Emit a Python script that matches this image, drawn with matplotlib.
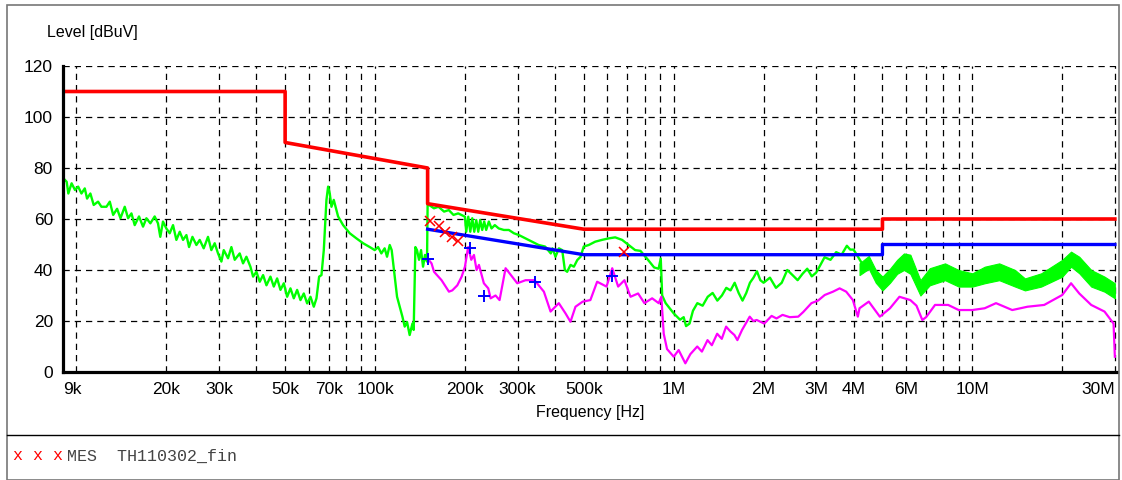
import matplotlib
matplotlib.use('Agg')
import matplotlib.pyplot as plt
from matplotlib.patches import Rectangle
from matplotlib.lines import Line2D
from matplotlib.ticker import NullFormatter

plt.rcParams['font.family'] = ['Liberation Sans', 'DejaVu Sans']

# limit lines (Hz, dBuV)
qp_limit_f = [9e3, 50e3, 50e3, 150e3, 150e3, 500e3, 5e6, 5e6, 30e6]
qp_limit_db = [110, 110, 90, 80, 66, 56, 56, 60, 60]
av_limit_f = [150e3, 500e3, 5e6, 5e6, 30e6]
av_limit_db = [56, 46, 46, 50, 50]

# peak scan (green), frequencies in kHz
green_khz = [9.04, 9.28, 9.40, 9.64, 9.89, 10.14, 10.40, 10.67, 10.86, 11.14,
             11.43, 11.82, 12.13, 12.61, 12.94, 13.28, 13.69, 14.05, 14.52, 14.90,
             15.29, 15.68, 16.21, 16.72, 17.16, 17.69, 18.29, 18.76, 19.10, 19.50,
             20.01, 20.53, 21.07, 21.62, 22.19, 22.76, 23.36, 23.84, 24.47, 25.23,
             25.88, 26.69, 27.59, 28.31, 29.05, 29.81, 30.59, 31.15, 32.20, 33.04,
             33.90, 35.23, 36.15, 37.10, 38.26, 39.06, 40.07, 41.12, 42.19, 43.30,
             44.65, 45.82, 47.01, 48.24, 49.49, 50.78, 52.10, 53.46, 54.85, 56.28,
             57.74, 59.25, 60.79, 62.37, 63.67, 64.98, 66.17, 67.37, 68.76, 69.65,
             70.55, 71.46, 72.75, 75.22, 78.18, 82.30, 86.64, 91.20, 96.01, 99.78,
             102.4, 105.0, 107.7, 109.7, 112.0, 113.7, 116.4, 118.5, 121.0, 123.5,
             125.7, 128.0, 130.6, 133.4, 134.7, 136.5, 138.2, 140.4, 142.6, 144.8,
             147.0, 149.3,
             150.0, 151.7, 157.5, 163.1, 170.3, 176.6, 183.1, 189.9, 200.0, 202.0,
             205.2, 208.4, 211.6, 214.9, 218.2, 221.6, 225.0, 228.5, 232.0, 235.6,
             240.5, 245.5, 251.8, 259.5, 270.0, 280.6, 291.8, 303.2, 318.9, 335.4,
             353.0, 371.0, 387.7, 392.8, 402.0, 412.7, 423.4, 432.1, 439.9, 451.5,
             463.3, 475.5, 487.7, 499.8, 519.4, 546.0, 575.0, 606.0, 637.0, 672.0,
             707.0, 743.0, 774.0, 820.0, 860.0, 890.0, 905.0, 915.0, 940.0, 1000.0,
             1050, 1080, 1100, 1130, 1160, 1200, 1250, 1300, 1350, 1400,
             1450, 1500, 1550, 1600, 1650, 1700, 1750, 1800, 1850, 1900,
             1950, 2000, 2100, 2200, 2300, 2400, 2500, 2600, 2700, 2800,
             2900, 3000, 3100, 3200, 3350, 3500, 3650, 3800, 3900, 4000,
             4150, 4300]
green_db = [76.0, 74.6, 70.0, 74.0, 71.4, 72.7, 70.0, 72.0, 68.0, 70.0,
            65.5, 66.8, 64.8, 64.8, 66.8, 61.6, 64.0, 60.3, 64.8, 60.3,
            62.2, 57.6, 61.0, 57.0, 60.3, 58.3, 61.0, 58.3, 53.0, 59.0,
            56.3, 54.4, 57.6, 51.8, 55.0, 51.8, 53.7, 49.0, 53.0, 49.8,
            51.8, 48.5, 53.0, 47.8, 50.5, 46.5, 43.3, 47.8, 44.6, 49.0,
            44.0, 46.5, 42.6, 45.2, 41.3, 37.4, 39.3, 35.4, 38.0, 34.0,
            37.4, 33.5, 36.7, 32.2, 34.8, 29.5, 32.8, 28.9, 32.2, 28.2,
            30.8, 26.9, 29.5, 25.6, 28.9, 37.4, 38.0, 47.8, 67.5, 72.7,
            70.0, 64.8, 67.5, 61.0, 57.6, 54.4, 52.4, 50.5, 49.0, 47.8,
            49.0, 46.5, 48.5, 45.2, 49.8, 47.8, 37.4, 29.5, 25.6, 21.7,
            17.8, 19.6, 14.5, 19.0, 16.5, 49.0, 47.8, 44.0, 47.8, 41.3,
            45.9, 43.3,
            66.1, 65.5, 64.2, 64.8, 62.9, 63.5, 61.6, 62.2, 60.9, 55.0,
            60.9, 55.0, 60.3, 55.0, 59.6, 55.0, 59.6, 55.7, 59.0, 55.7,
            59.0, 56.3, 57.6, 56.3, 55.7, 55.7, 54.4, 53.7, 52.4, 51.1,
            49.8, 49.2, 46.5, 48.5, 45.2, 48.5, 47.8, 40.0, 39.3, 42.0,
            41.3, 43.9, 45.2, 49.2, 49.8, 51.1, 51.8, 52.4, 52.8, 51.8,
            49.8, 47.8, 47.5, 44.0, 41.0, 40.5, 44.5, 30.0, 27.0, 23.0,
            20.5, 21.5, 18.0, 19.0, 24.0, 27.0, 26.0, 29.5, 31.0, 28.0,
            30.0, 33.0, 32.0, 35.0, 31.0, 28.0, 31.0, 35.0, 37.0, 39.5,
            36.0, 35.0, 37.0, 33.0, 35.0, 40.0, 38.0, 36.0, 38.5, 40.5,
            37.5, 39.0, 42.0, 45.0, 44.0, 47.0, 46.0, 49.5, 48.0, 48.0,
            45.0, 42.0]

# noise band of the peak scan above 4.2 MHz (kHz, upper / lower edge)
gband_khz = [4190, 4500, 4750, 5000, 5300, 5600, 5900, 6200, 6700, 7200,
             8100, 9000, 10000, 11000, 12300, 13900, 15000, 17000, 20000, 21400,
             22800, 25000, 27700, 30000]
gband_hi = [42.6, 45.5, 40.0, 37.4, 40.5, 44.0, 46.5, 46.0, 36.0, 40.7,
            42.6, 40.0, 38.7, 41.3, 42.6, 40.0, 36.7, 38.7, 44.0, 47.2,
            45.2, 40.0, 37.4, 34.8]
gband_lo = [38.0, 40.5, 35.0, 32.0, 35.0, 38.5, 40.0, 38.5, 30.0, 34.0,
            36.0, 33.5, 33.5, 34.8, 36.0, 33.5, 32.0, 33.5, 37.4, 41.3,
            38.7, 33.5, 31.5, 28.9]

# average scan (magenta), kHz
avg_khz = [150.0, 154.6, 157.6, 167.0, 176.8, 181.4, 188.6, 195.0, 200.0, 205.0,
           210.0, 214.4, 218.8, 222.8, 231.4, 239.4, 243.8, 253.2, 261.2, 273.6,
           299.4, 319.2, 342.0, 367.6, 387.0, 412.4, 434.2, 451.2, 469.0, 495.8,
           526.0, 554.2, 595.8, 622.6, 651.6, 684.0, 716.8, 760.0, 798.0, 846.8,
           890.8, 909.0, 926.0, 950.0, 1000, 1039, 1094, 1137, 1199, 1243,
           1298, 1342, 1398, 1449, 1498, 1545, 1597, 1634, 1694, 1797,
           1848, 1896, 2010, 2127, 2209, 2314, 2447, 2612, 2714, 2892,
           3043, 3204, 3415, 3594, 3781, 3981, 4135, 4190, 4500, 4900,
           5300, 5700, 6200, 6500, 6800, 7000, 7500, 8300, 9000, 10000,
           11000, 12000, 13600, 15300, 17400, 20000, 21400, 22800, 25000, 27700,
           29700, 30000]
avg_db = [44.5, 42.6, 39.3, 36.0, 31.5, 32.0, 34.0, 37.4, 41.3, 49.0,
          44.0, 45.9, 40.0, 42.0, 34.8, 32.8, 28.9, 30.0, 28.2, 40.7,
          34.8, 36.0, 36.0, 31.5, 23.7, 27.0, 23.0, 19.7, 25.6, 27.6,
          28.2, 35.4, 33.5, 40.7, 33.5, 36.0, 29.5, 30.8, 27.0, 28.9,
          27.0, 29.5, 15.0, 9.0, 6.0, 8.6, 3.4, 7.0, 10.0, 8.0,
          12.5, 10.5, 15.0, 13.0, 17.8, 16.0, 14.5, 12.5, 16.5, 21.7,
          20.0, 20.4, 19.0, 22.0, 21.0, 22.4, 21.5, 21.7, 23.5, 27.0,
          28.0, 30.2, 31.5, 32.8, 31.5, 28.2, 21.7, 25.0, 27.6, 21.7,
          25.0, 29.5, 28.2, 26.0, 20.4, 21.5, 26.3, 26.3, 24.3, 24.3,
          25.0, 27.0, 24.3, 25.6, 26.3, 30.2, 34.8, 30.8, 26.3, 23.7,
          19.0, 6.0]

# final measurement points
mes_qp_khz = [153, 164, 172, 181, 190, 684]
mes_qp_db = [59.2, 57.3, 55.0, 53.0, 51.5, 47.2]
mes_av_khz = [150, 208, 231, 344, 622]
mes_av_db = [44.2, 48.5, 29.9, 35.2, 37.8]

tick_f = [9e3, 20e3, 30e3, 50e3, 70e3, 100e3, 200e3, 300e3, 500e3,
          1e6, 2e6, 3e6, 4e6, 6e6, 10e6, 30e6]
tick_lab = ['9k', '20k', '30k', '50k', '70k', '100k', '200k', '300k', '500k',
            '1M', '2M', '3M', '4M', '6M', '10M', '30M']

W, H = 1122, 480
fig = plt.figure(figsize=(W / 100, H / 100), dpi=100)
ax = fig.add_axes([62.7 / W, (H - 372) / H, (1117 - 62.7) / W, 306 / H])

k = 1e3
ax.fill_between([f * k for f in gband_khz], gband_lo, gband_hi,
                color='#00ff00', lw=0.8, ec='#00ff00', zorder=2)
ax.plot([f * k for f in green_khz], green_db, color='#00ff00', lw=1.7, zorder=3)
ax.plot([f * k for f in avg_khz], avg_db, color='#ff00ff', lw=1.6, zorder=3)
ax.plot(qp_limit_f, qp_limit_db, color='#ff0000', lw=2.6, zorder=4)
ax.plot(av_limit_f, av_limit_db, color='#0000ff', lw=2.4, zorder=4)
ax.plot([f * k for f in mes_qp_khz], mes_qp_db, ls='none', marker='x',
        ms=7, mew=1.1, color='#ff0000', zorder=5)
ax.plot([f * k for f in mes_av_khz], mes_av_db, ls='none', marker='+',
        ms=9, mew=1.4, color='#0000ff', zorder=5)

ax.set_xscale('log')
ax.set_xlim(9e3, 30.5e6)
ax.set_ylim(0, 120)

# dashed grid at every 1..9 x decade
grid_f = [m * 10 ** d for d in range(4, 8) for m in range(1, 10)
          if m * 10 ** d <= 30e6]
ax.set_xticks(grid_f, minor=True)
ax.xaxis.set_minor_formatter(NullFormatter())
ax.set_xticks(tick_f)
ax.set_xticklabels(tick_lab)
ax.set_yticks(range(0, 121, 20))
ax.tick_params(axis='both', which='both', length=0, labelsize=12.5)
ax.tick_params(axis='x', pad=7)
ax.tick_params(axis='y', pad=7)
labs = ax.get_xticklabels()
labs[0].set_ha('left')
labs[-1].set_ha('right')

ax.grid(False)
ax.grid(True, which='both', axis='x', color='black', ls=(0, (5, 4)), lw=0.9)
ax.grid(True, which='major', axis='y', color='black', ls=(0, (5, 4)), lw=0.9)
ax.set_axisbelow(True)
for s in ['top', 'right']:
    ax.spines[s].set_visible(False)
for s in ['left', 'bottom']:
    ax.spines[s].set_linewidth(2.3)
    ax.spines[s].set_zorder(6)

fig.text(47 / W, 1 - 32 / H, 'Level [dBuV]', fontsize=11.5, va='center', ha='left')
fig.text(590 / W, 1 - 412 / H, 'Frequency [Hz]', fontsize=11.5, va='center', ha='center')

# frame and legend strip
fig.add_artist(Rectangle((7 / W, 0), (1119 - 7) / W, (H - 5) / H,
                         transform=fig.transFigure, fill=False,
                         edgecolor='#777777', lw=1.2))
fig.add_artist(Line2D([7 / W, 1119 / W], [1 - 435 / H, 1 - 435 / H],
                      transform=fig.transFigure, color='black', lw=1))
fig.text(13 / W, 1 - 456 / H, 'x x x', family='Liberation Mono', fontsize=12,
         color='#ff0000', va='center')
fig.text(67 / W, 1 - 456 / H, 'MES  TH110302_fin', family='Liberation Mono',
         fontsize=12, color='#444444', va='center')

fig.savefig('out.png', dpi=100)
